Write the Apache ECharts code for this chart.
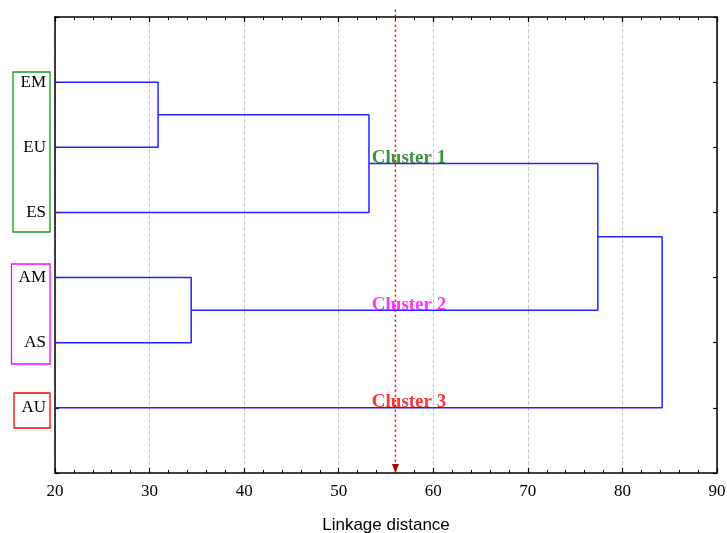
<!DOCTYPE html>
<html>
<head>
<meta charset="utf-8">
<script src="https://cdn.jsdelivr.net/npm/echarts@6/dist/echarts.min.js"></script>
<style>html,body{margin:0;padding:0;background:#fff;overflow:hidden;}#c{width:727px;height:533px;}</style>
</head>
<body>
<div id="c"></div>
<script>
// Leaves (top to bottom)
const leaves = ['EM', 'EU', 'ES', 'AM', 'AS', 'AU'];
// Agglomeration steps: node ids 0..5 are leaves, 6.. are merged clusters
const mergeLeft = [0, 6, 3, 7, 9];
const mergeRight = [1, 2, 4, 8, 5];
const mergeHeight = [30.9, 53.2, 34.4, 77.4, 84.2];
// Cut line
const cutDistance = 56;
// Cluster annotations
const clusterNames = ['Cluster 1', 'Cluster 2', 'Cluster 3'];
const clusterColors = ['#0f750f', '#ff00ff', '#ff0000'];
const clusterNode = [7, 8, 5]; // node whose branch carries the label
// Axis ticks
const xTicks = [20, 30, 40, 50, 60, 70, 80, 90];

const xMin = 20, xMax = 90;
// compute node positions
const nodeX = leaves.map(() => xMin);
const nodeY = leaves.map((_, i) => i + 1);
const links = [];
for (let i = 0; i < mergeHeight.length; i++) {
  const a = mergeLeft[i], b = mergeRight[i], h = mergeHeight[i];
  links.push([[nodeX[a], nodeY[a]], [h, nodeY[a]], [h, nodeY[b]], [nodeX[b], nodeY[b]]]);
  nodeX.push(h);
  nodeY.push((nodeY[a] + nodeY[b]) / 2);
}

const blue = '#2323ff';
const series = links.map(pts => ({
  type: 'line', data: pts, symbol: 'none', silent: true, animation: false,
  lineStyle: { color: blue, width: 1.5 }
}));

series.push({
  type: 'line', data: [[cutDistance, -0.11], [cutDistance, 7]], symbol: 'none', clip: false,
  animation: false, silent: true, z: 3,
  lineStyle: { color: '#ff0000', type: [2, 3], width: 1.5 },
  markPoint: {
    silent: true, animation: false,
    symbol: 'path://M0,0 L10,0 L5,12 Z', symbolSize: [7, 9], symbolOffset: [0, '-50%'],
    itemStyle: { color: '#b00000' },
    label: { show: false },
    data: [{ coord: [cutDistance, 7] }]
  }
});

series.push({
  type: 'scatter', symbolSize: 0, silent: true, animation: false, clip: false, z: 4,
  data: clusterNames.map((n, i) => ({
    name: n,
    value: [53.5, nodeY[clusterNode[i]]],
    label: { color: clusterColors[i] }
  })),
  label: {
    show: true, formatter: p => p.name, position: [0, 0], align: 'left', verticalAlign: 'bottom',
    offset: [0, 4],
    fontFamily: 'Liberation Serif', fontWeight: 'bold', fontSize: 19
  }
});

const axisLineStyle = { color: '#000', width: 1.5 };
const chart = echarts.init(document.getElementById('c'), null, { renderer: 'canvas', width: 727, height: 533 });
chart.setOption({
  backgroundColor: '#fff',
  animation: false,
  grid: { left: 55, right: 10, top: 17, bottom: 60, containLabel: false, outerBoundsMode: 'none' },
  xAxis: [{
    type: 'value', min: xMin, max: xMax, interval: 10, position: 'bottom',
    axisLine: { show: true, onZero: false, lineStyle: axisLineStyle },
    axisTick: { show: true, inside: true, length: 5, lineStyle: { color: '#000', width: 1.2 } },
    minorTick: { show: true, splitNumber: 5, length: 3, lineStyle: { color: '#000', width: 1 } },
    splitLine: { show: true, lineStyle: { color: '#c8c8c8', type: 'dashed', width: 1 } },
    axisLabel: { color: '#000', fontFamily: 'Liberation Serif', fontSize: 17, margin: 10,
      formatter: v => xTicks.indexOf(v) >= 0 ? String(v) : '' },
    name: 'Linkage distance', nameLocation: 'middle', nameGap: 44,
    nameTextStyle: { color: '#000', fontFamily: 'Liberation Sans', fontSize: 17 }
  }, {
    type: 'value', min: xMin, max: xMax, interval: 10, position: 'top',
    axisLine: { show: true, onZero: false, lineStyle: axisLineStyle },
    axisTick: { show: true, inside: true, length: 5, lineStyle: { color: '#000', width: 1.2 } },
    minorTick: { show: true, splitNumber: 5, length: 3, lineStyle: { color: '#000', width: 1 } },
    splitLine: { show: false },
    axisLabel: { show: false }
  }],
  yAxis: [{
    type: 'value', min: 0, max: 7, interval: 1, inverse: true, position: 'left',
    axisLine: { show: true, onZero: false, lineStyle: axisLineStyle },
    axisTick: { show: true, inside: true, length: 4, lineStyle: { color: '#000', width: 1.2 } },
    splitLine: { show: false },
    axisLabel: { color: '#000', fontFamily: 'Liberation Serif', fontSize: 17, margin: 9,
      formatter: v => leaves[v - 1] || '' }
  }, {
    type: 'value', min: 0, max: 7, interval: 1, inverse: true, position: 'right',
    axisLine: { show: true, onZero: false, lineStyle: axisLineStyle },
    axisTick: { show: true, inside: true, length: 4, lineStyle: { color: '#000', width: 1.2 } },
    splitLine: { show: false },
    axisLabel: { show: false }
  }],
  series: series,
  graphic: [
    { type: 'rect', shape: { x: 13, y: 72, width: 37, height: 160 }, style: { fill: 'none', stroke: '#1a9a1a', lineWidth: 1.3 } },
    { type: 'rect', shape: { x: 11.5, y: 264, width: 38.5, height: 100 }, style: { fill: 'none', stroke: '#ff00ff', lineWidth: 1.3 } },
    { type: 'rect', shape: { x: 14, y: 393, width: 36, height: 35 }, style: { fill: 'none', stroke: '#ff0000', lineWidth: 1.3 } }
  ]
});
</script>
</body>
</html>
